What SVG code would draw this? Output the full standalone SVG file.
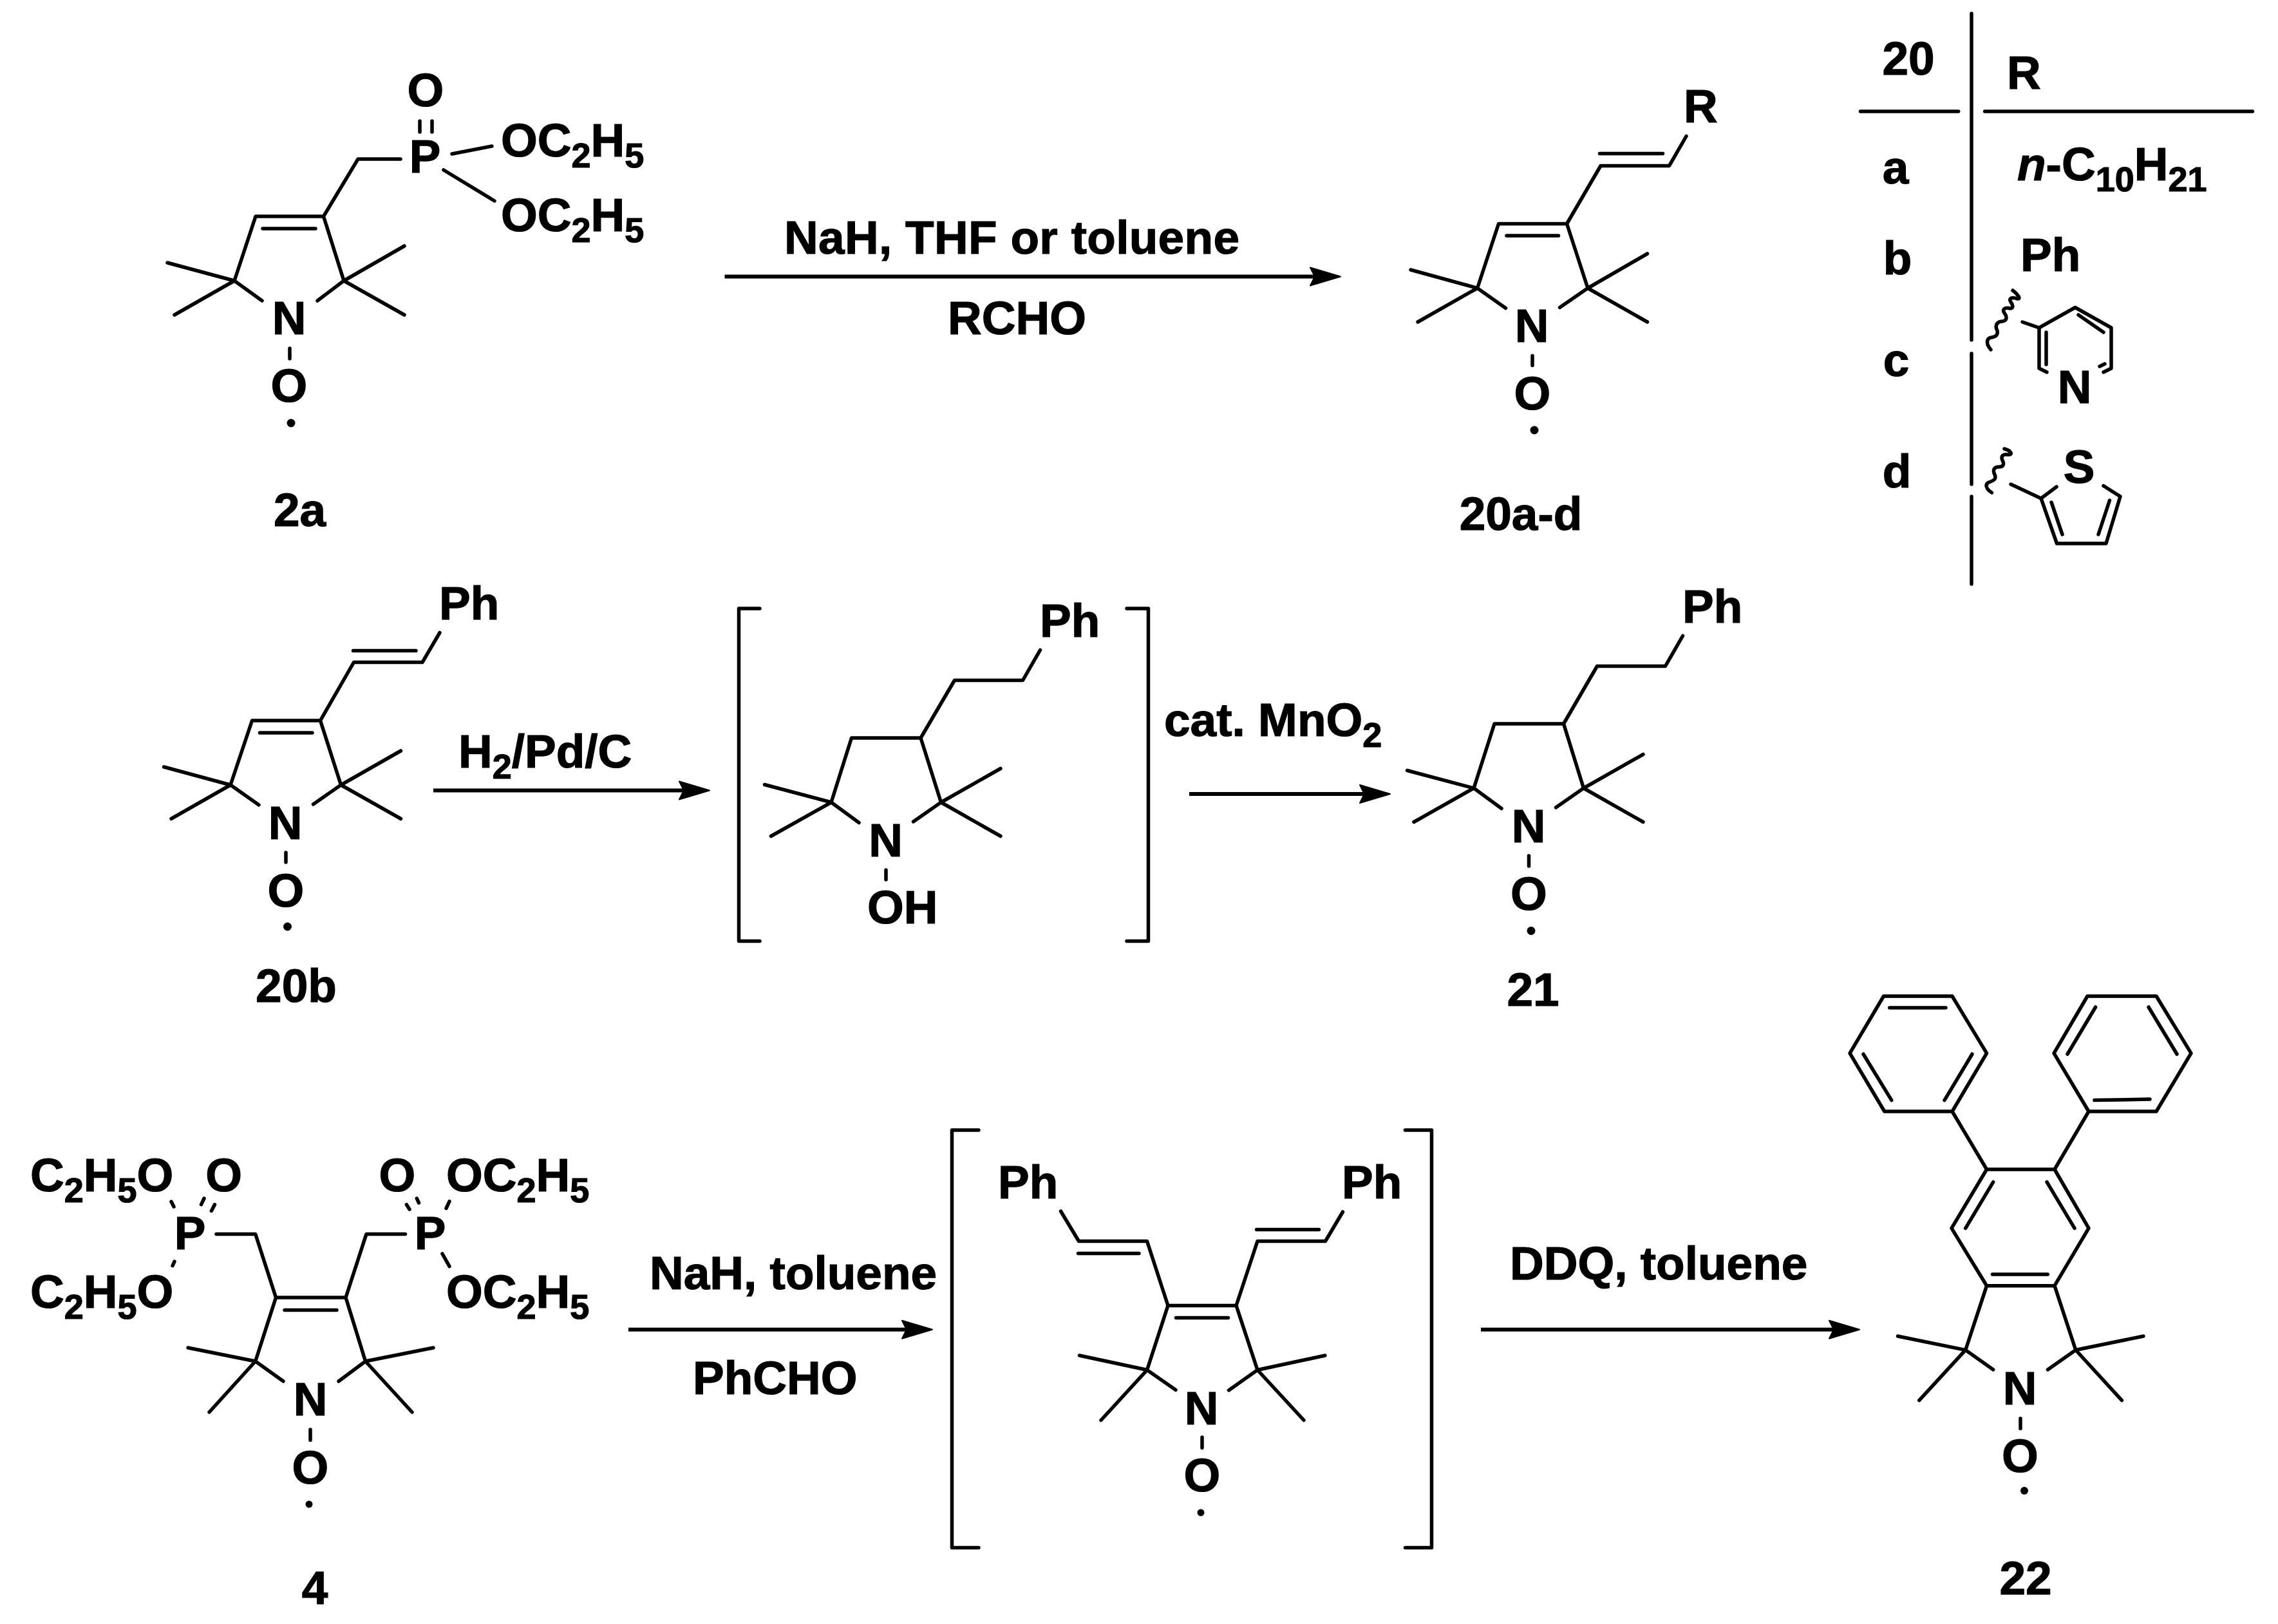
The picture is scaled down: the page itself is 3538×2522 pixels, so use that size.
<svg xmlns="http://www.w3.org/2000/svg" width="3538" height="2522" viewBox="0 0 3538 2522">
<style>
.b{fill:none;stroke:#000;stroke-width:5.5;stroke-linecap:round;stroke-linejoin:round}
.t{font-family:"Liberation Sans",Arial,sans-serif;font-weight:700;font-size:73px;fill:#000;stroke:#000;stroke-width:1.2px}
.m{text-anchor:middle}
.s{font-size:54px}
.i{font-style:italic}
.d{fill:#000}
.a{fill:none;stroke:#000;stroke-width:6;marker-end:url(#arr)}
</style>
<defs>
<marker id="arr" markerUnits="userSpaceOnUse" markerWidth="54" markerHeight="34" viewBox="-2 -2 54 34" refX="28" refY="15" orient="auto">
<path d="M48,15 L1,1 L8,15 L1,29 Z" fill="#000" stroke="#000" stroke-width="2" stroke-linejoin="round"/>
</marker>
</defs>
<rect width="3538" height="2522" fill="#fff"/>

<g id="compound-2a">
<path class="b" d="M407,467 L364,436 L397,336 L502.5,336 L534,436 L493,467 M408,355 H490 M260,408 L364,436 L271,489 M628,382 L534,436 L628,489 M502.5,336 L556,247 H622 M652,188 V205 M671,188 V205 M702,239 L764,227 M689,264 L768,312 M450,541 V557"/>
<text class="t m" x="449" y="519">N</text>
<text class="t m" x="449" y="624">O</text>
<circle class="d" cx="452" cy="657" r="6.5"/>
<text class="t m" x="660" y="268">P</text>
<text class="t m" x="661" y="165">O</text>
<text class="t" x="778" y="243">OC<tspan class="s" dy="17">2</tspan><tspan dy="-17">H</tspan><tspan class="s" dy="17">5</tspan></text>
<text class="t" x="778" y="359">OC<tspan class="s" dy="17">2</tspan><tspan dy="-17">H</tspan><tspan class="s" dy="17">5</tspan></text>
<text class="t m" x="465.5" y="817">2a</text>
</g>

<g id="compound-20a-d">
<path class="b" d="M2338.5,478.5 L2294.5,447.5 L2327.5,347.5 L2433.5,347.5 L2466,447.5 L2422.5,477.5 M2340,366 H2420.5 M2191,419 L2294.5,447.5 L2202,500 M2558.5,394 L2466,447.5 L2558.5,500 M2433.5,347.5 L2486,257.5 H2592.5 L2619,211.5 M2484.5,238.5 H2582.5 M2380,552.5 V567.5"/>
<text class="t m" x="2379" y="531">N</text>
<text class="t m" x="2380" y="636">O</text>
<circle class="d" cx="2383" cy="668" r="6.5"/>
<text class="t" x="2615" y="190">R</text>
<text class="t m" x="2362" y="822.5">20a-d</text>
</g>

<g id="table-20">
<path class="b" d="M3062,21 V528 M3062,549 V752 M3062,771 V907 M2889.5,173 H3041.7 M3082.6,173 H3498.5"/>
<text class="t m" x="2964" y="115.7">20</text>
<text class="t" x="3117" y="138">R</text>
<text class="t m" x="2944" y="284.7">a</text>
<text class="t" x="3133" y="280"><tspan class="i">n</tspan>-C<tspan class="s" dy="17">10</tspan><tspan dy="-17">H</tspan><tspan class="s" dy="17">21</tspan></text>
<text class="t m" x="2947" y="426">b</text>
<text class="t" x="3138" y="421">Ph</text>
<text class="t m" x="2945" y="584">c</text>
<path class="b" d="M3092,543 C3084,534 3085,525 3093,524 C3102,523 3104,517 3101,511 C3098,503 3104,499 3110,499 C3118,498 3117,491 3113,486 C3109,480 3114,477 3122,479 C3128,479 3126,473 3123,469 C3119,463 3125,461 3133,464 C3140,465 3133,456 3126,451"/>
<path class="b" d="M3141,500 L3167,509 L3223,477.5 L3279,509 V572 L3267,578 M3167,509 V572 L3179,578 M3178,516 V566 M3228,489 L3267,516 M3261,569 L3269,565"/>
<text class="t m" x="3222" y="626">N</text>
<text class="t m" x="2946" y="757">d</text>
<path class="b" d="M3093.5,765 C3085,760 3082,752 3089,749 C3097,746 3101,744 3098,737 C3094,729 3098,725 3105,725 C3112,725 3113,720 3110,715 C3107,708 3111,705 3118,706 C3127,707 3124,700 3113,697"/>
<path class="b" d="M3123,752 L3170,774 L3194.5,844 H3271 L3293,771 L3267,754.5 M3170,774 L3194,756 M3186,780 L3203,830 M3276.5,777 L3259,830"/>
<text class="t m" x="3229" y="750">S</text>
</g>

<g id="compound-20b">
<path class="b" d="M402,1250 L358,1219 L391.5,1119 H497.5 L529.5,1219 L486.5,1249 M403.5,1138 H485 M254.5,1191 L358,1219 L266,1271.5 M622.5,1166 L529.5,1219 L622.5,1271.5 M497.5,1119 L549.5,1028.5 H656 L683,982.5 M548.5,1010.5 H646 M444,1324 V1339"/>
<text class="t m" x="443" y="1303">N</text>
<text class="t m" x="444" y="1408">O</text>
<circle class="d" cx="446.5" cy="1439" r="6.5"/>
<text class="t" x="682" y="961.5">Ph</text>
<text class="t m" x="460" y="1556">20b</text>
</g>

<g id="intermediate-hydroxylamine">
<path class="b" d="M1180,945 H1147.5 V1461.5 H1180 M1750,945 H1783.5 V1461.5 H1750"/>
<path class="b" d="M1334,1277.5 L1291,1246 L1322.5,1146 H1430 L1461.5,1246 L1418.5,1276 M1187.5,1218.5 L1291,1246 L1197.5,1298.5 M1554,1193.5 L1461.5,1246 L1554,1298.5 M1430,1146 L1482.5,1056.5 H1588.5 L1615.5,1009.5 M1376,1351 V1366"/>
<text class="t m" x="1375.5" y="1330">N</text>
<text class="t" x="1347" y="1434">OH</text>
<text class="t" x="1615" y="989">Ph</text>
</g>

<g id="compound-21">
<path class="b" d="M2332,1255.5 L2289,1224 L2321,1124 H2428.5 L2459.5,1224 L2416.5,1254 M2185.5,1196.5 L2289,1224 L2196,1276.5 M2552,1171.5 L2459.5,1224 L2552,1276.5 M2428.5,1124 L2480.5,1034.5 H2586.5 L2613.5,987.5 M2374.5,1329 V1345"/>
<text class="t m" x="2374" y="1308">N</text>
<text class="t m" x="2374.5" y="1413">O</text>
<circle class="d" cx="2378" cy="1445.5" r="6.5"/>
<text class="t" x="2613" y="966.5">Ph</text>
<text class="t m" x="2381" y="1561.5">21</text>
</g>

<g id="compound-4">
<path class="b" d="M440,2145 L396.7,2114 L428.5,2015 H537 L567.6,2114 L526,2145 M442,2034.6 H523 M292,2093 L396.7,2114 L325,2193 M673,2093 L567.6,2114 L640,2193 M428.5,2015 L396.7,1916.4 H336 M537,2015 L569,1916.4 H629.5 M482,2220 V2236.5 M266,1866 L270,1874 M268,1965.6 L271,1959 M312.5,1870.6 L317,1861 M328.4,1880.5 L333.5,1870.6 M698,1865.7 L693,1876.5 M687,1947 L698,1966.6 M650.5,1868 L647.3,1861 M636,1878 L631.4,1870.6"/>
<text class="t m" x="482" y="2198">N</text>
<text class="t m" x="482" y="2304">O</text>
<circle class="d" cx="480" cy="2336" r="5.5"/>
<text class="t m" x="295" y="1939.5">P</text>
<text class="t m" x="668" y="1939.5">P</text>
<text class="t" x="47" y="1850">C<tspan class="s" dy="17">2</tspan><tspan dy="-17">H</tspan><tspan class="s" dy="17">5</tspan><tspan dy="-17">O</tspan></text>
<text class="t" x="47" y="2030.6">C<tspan class="s" dy="17">2</tspan><tspan dy="-17">H</tspan><tspan class="s" dy="17">5</tspan><tspan dy="-17">O</tspan></text>
<text class="t m" x="347.7" y="1850">O</text>
<text class="t m" x="617" y="1850">O</text>
<text class="t" x="693" y="1850">OC<tspan class="s" dy="17">2</tspan><tspan dy="-17">H</tspan><tspan class="s" dy="17">5</tspan></text>
<text class="t" x="693" y="2030.6">OC<tspan class="s" dy="17">2</tspan><tspan dy="-17">H</tspan><tspan class="s" dy="17">5</tspan></text>
<text class="t m" x="489" y="2491">4</text>
</g>

<g id="intermediate-distyryl">
<path class="b" d="M1520,1755 H1478.5 V2403.5 H1520 M2182.5,1755 H2223.5 V2403.5 H2182.5"/>
<path class="b" d="M1826,2158.5 L1781.5,2127.5 L1814,2027.5 H1920 L1953,2127.5 L1908.5,2159 M1826.5,2046.5 H1907.5 M1676.5,2105 L1781.5,2127.5 L1710,2205.5 M2058,2105 L1953,2127.5 L2025,2205.5 M1814,2027.5 L1781.5,1927.5 H1675.5 L1647.5,1881 M1674.5,1946.5 H1769 M1920,2027.5 L1953,1927.5 H2058.5 L2085.5,1882 M1951.5,1909.5 H2048.5 M1867,2232 V2248.5"/>
<text class="t m" x="1866" y="2211.5">N</text>
<text class="t m" x="1867" y="2316">O</text>
<circle class="d" cx="1865" cy="2349" r="5.5"/>
<text class="t" x="1550" y="1860.5">Ph</text>
<text class="t" x="2084" y="1860.5">Ph</text>
</g>

<g id="compound-22">
<path class="b" d="M2925.5,1547 H3032 L3085.6,1635.6 L3032,1726 H2926.8 L2873,1635.6 Z M2934.7,1565 H3022 M2894,1637 L2937.8,1708.6 M3063,1637 L3020,1708.6"/>
<path class="b" d="M3242,1547 H3349 L3403,1635.6 L3349,1726 H3244 L3190,1635.6 Z M3254.6,1564 L3211,1637 M3337,1564 L3381,1637 M3253,1708.6 L3339,1707"/>
<path class="b" d="M3085.6,1816 H3191 L3244,1907.4 L3191,1996.7 H3085.6 L3031,1907.4 Z M3032,1726 L3085.6,1816 M3244,1726 L3191,1816 M3095.7,1835.7 L3052.7,1907.4 M3179,1835.7 L3222,1907.4 M3094.4,1979 H3180.4"/>
<path class="b" d="M3085.6,1996.7 L3052.7,2096.5 L3095.7,2127 M3191,1996.7 L3223.8,2096.5 L3180.4,2127 M2947.4,2075 L3052.7,2096.5 L2980.8,2174.7 M3329,2075 L3223.8,2096.5 L3295.4,2174.7 M3138,2202.7 V2218.4"/>
<text class="t m" x="3137" y="2181">N</text>
<text class="t m" x="3137.4" y="2285.5">O</text>
<circle class="d" cx="3144" cy="2315" r="6"/>
<text class="t m" x="3146" y="2476">22</text>
</g>

<g id="connectors">
<line class="a" x1="1125.5" y1="429.5" x2="2062" y2="429.5"/>
<line class="a" x1="673" y1="1227.5" x2="1082" y2="1227.5"/>
<line class="a" x1="1847" y1="1233" x2="2139" y2="1233"/>
<line class="a" x1="976" y1="2064.7" x2="1428" y2="2064.7"/>
<line class="a" x1="2300" y1="2064.7" x2="2868" y2="2064.7"/>
</g>

<g id="reaction-labels">
<text class="t" x="1218" y="394" textLength="707">NaH, THF or toluene</text>
<text class="t" x="1472" y="519">RCHO</text>
<text class="t" x="712" y="1192">H<tspan class="s" dy="17">2</tspan><tspan dy="-17">/Pd/C</tspan></text>
<text class="t" x="1808" y="1143">cat. MnO<tspan class="s" dy="17">2</tspan></text>
<text class="t" x="1009" y="2002">NaH, toluene</text>
<text class="t" x="1076" y="2164.7">PhCHO</text>
<text class="t" x="2345" y="1987">DDQ, toluene</text>
</g>
</svg>
